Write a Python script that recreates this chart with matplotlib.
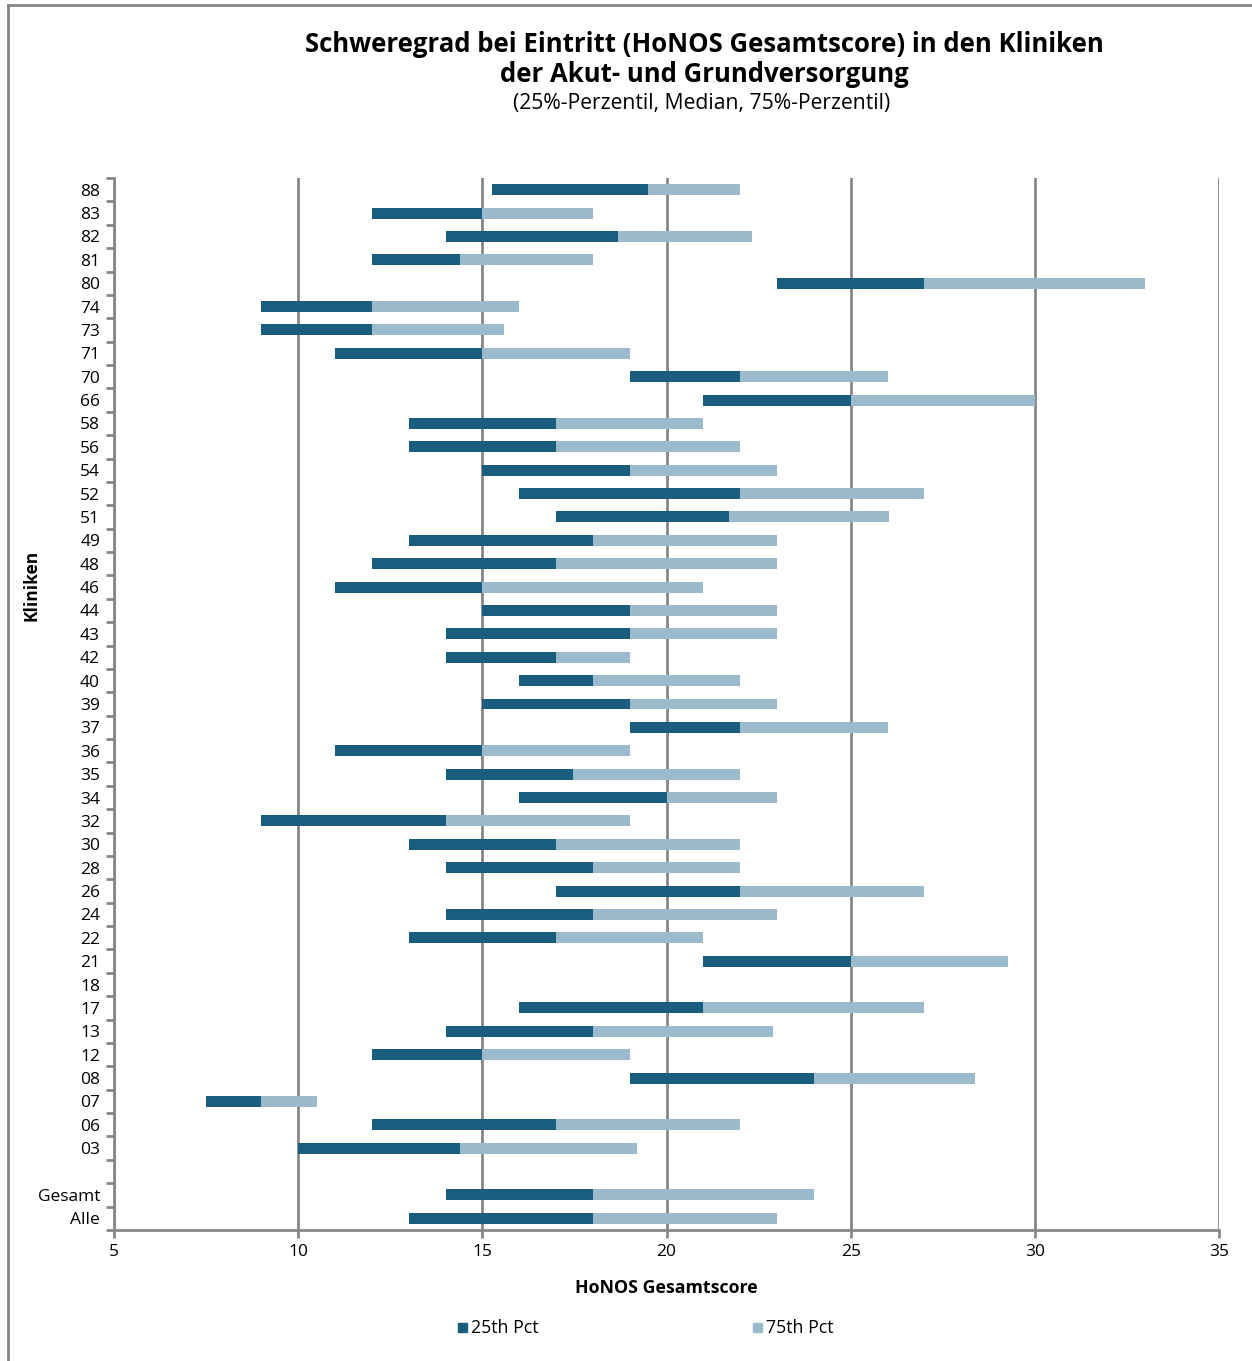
import numpy as np
import matplotlib.pyplot as plt
from matplotlib.lines import Line2D
from matplotlib.patches import Rectangle

plt.rcParams['font.family'] = ['Open Sans', 'DejaVu Sans']

# categories top to bottom ("" = empty slot)
kliniken = ["88", "83", "82", "81", "80", "74", "73", "71", "70", "66", "58", "56",
            "54", "52", "51", "49", "48", "46", "44", "43", "42", "40", "39", "37",
            "36", "35", "34", "32", "30", "28", "26", "24", "22", "21", "18", "17",
            "13", "12", "08", "07", "06", "03", "", "Gesamt", "Alle"]

p25 = [15.25, 12, 14, 12, 23, 9, 9, 11, 19, 21, 13, 13,
       15, 16, 17, 13, 12, 11, 15, 14, 14, 16, 15, 19,
       11, 14, 16, 9, 13, 14, 17, 14, 13, 21, np.nan, 16,
       14, 12, 19, 7.5, 12, 10, np.nan, 14, 13]
median = [19.5, 15, 18.67, 14.4, 27, 12, 12, 15, 22, 25, 17, 17,
          19, 22, 21.7, 18, 17, 15, 19, 19, 17, 18, 19, 22,
          15, 17.45, 20, 14, 17, 18, 22, 18, 17, 25, np.nan, 21,
          18, 15, 24, 9, 17, 14.4, np.nan, 18, 18]
p75 = [22, 18, 22.33, 18, 33, 16, 15.6, 19, 26, 30, 21, 22,
       23, 27, 26.05, 23, 23, 21, 23, 23, 19, 22, 23, 26,
       19, 22, 23, 19, 22, 22, 27, 23, 21, 29.27, np.nan, 27,
       22.9, 19, 28.38, 10.5, 22, 19.2, np.nan, 24, 23]

dark = "#1b5d7f"
light = "#9bbacb"
grey = "#878787"

p25 = np.array(p25, dtype=float)
median = np.array(median, dtype=float)
p75 = np.array(p75, dtype=float)
n = len(kliniken)
ypos = np.arange(n)[::-1]

fig = plt.figure(figsize=(12.52, 13.61), dpi=100)
ax = fig.add_axes([114 / 1252, 1 - 1230 / 1361, 1105 / 1252, 1052 / 1361])

ax.barh(ypos, median - p25, left=p25, height=0.47, color=dark, zorder=3)
ax.barh(ypos, p75 - median, left=median, height=0.47, color=light, zorder=3)

ax.set_xlim(5, 35)
ax.set_ylim(-0.5, n - 0.5)
ax.set_xticks([5, 10, 15, 20, 25, 30, 35])
ax.set_yticks(ypos)
ax.set_yticklabels(kliniken)
ax.set_yticks(np.arange(n + 1) - 0.5, minor=True)
ax.tick_params(axis='y', which='major', length=0, labelsize=12.5, pad=10)
ax.tick_params(axis='y', which='minor', length=6, width=2, color=grey)
ax.tick_params(axis='x', which='major', length=6, width=2, color=grey, labelsize=12.5, pad=4)
ax.xaxis.grid(True, color=grey, linewidth=2, zorder=0)
ax.set_axisbelow(True)
for side in ["top", "right"]:
    ax.spines[side].set_visible(False)
for side in ["left", "bottom"]:
    ax.spines[side].set_color(grey)
    ax.spines[side].set_linewidth(2)

ax.set_xlabel("HoNOS Gesamtscore", fontsize=12.8, fontweight='bold', labelpad=14)
fig.text(32 / 1252, 1 - 585 / 1361, "Kliniken", rotation=90, fontsize=12.5,
         fontweight='bold', ha='center', va='center')

fig.text(704 / 1252, 1 - 44 / 1361, "Schweregrad bei Eintritt (HoNOS Gesamtscore) in den Kliniken",
         fontsize=18.5, fontweight='bold', ha='center', va='center')
fig.text(704 / 1252, 1 - 75 / 1361, "der Akut- und Grundversorgung",
         fontsize=18.5, fontweight='bold', ha='center', va='center')
fig.text(702 / 1252, 1 - 104 / 1361, "(25%-Perzentil, Median, 75%-Perzentil)",
         fontsize=15.2, ha='center', va='center')

# legend
for xl, col, lab in [(458, dark, "25th Pct"), (753, light, "75th Pct")]:
    fig.patches.append(Rectangle((xl / 1252, 1 - 1332 / 1361), 9 / 1252, 9 / 1361,
                                 transform=fig.transFigure, color=col))
    fig.text((xl + 13) / 1252, 1 - 1328 / 1361, lab, fontsize=12.8, va='center', ha='left')

# outer frame
fig.lines.append(Line2D([8 / 1252, 8 / 1252], [0, 1 - 5 / 1361], transform=fig.transFigure,
                        color=grey, linewidth=2))
fig.lines.append(Line2D([8 / 1252, 1], [1 - 5 / 1361, 1 - 5 / 1361], transform=fig.transFigure,
                        color=grey, linewidth=2))

fig.savefig("out.png", dpi=100)
